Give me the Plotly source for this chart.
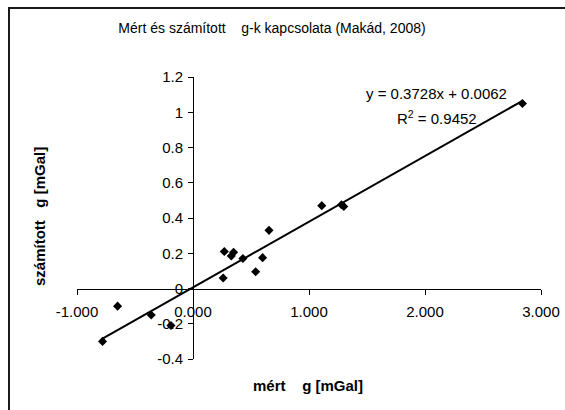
import plotly.graph_objects as go

# --- data ---
meas_g = [-0.78, -0.65, -0.36, -0.19, 0.26, 0.27, 0.33, 0.35, 0.43, 0.54, 0.60, 0.655, 1.11, 1.28, 1.30, 2.84]
calc_g = [-0.30, -0.10, -0.15, -0.21, 0.06, 0.21, 0.185, 0.205, 0.17, 0.095, 0.175, 0.33, 0.47, 0.475, 0.465, 1.05]
slope = 0.3728
intercept = 0.0062
r2 = 0.9452

x_tickvals = [-1, 0, 1, 2, 3]
x_ticktext = ["-1.000", "0.000", "1.000", "2.000", "3.000"]
y_tickvals = [-0.4, -0.2, 0, 0.2, 0.4, 0.6, 0.8, 1.0, 1.2]
y_ticktext = ["-0.4", "-0.2", "0", "0.2", "0.4", "0.6", "0.8", "1", "1.2"]

x_range = [-1, 3]
y_range = [-0.4, 1.2]

FONT = "Liberation Sans, Arial, sans-serif"

fit_x = [min(meas_g), max(meas_g)]
fit_y = [slope * v + intercept for v in fit_x]

fig = go.Figure()
fig.add_trace(go.Scatter(x=fit_x, y=fit_y, mode="lines",
                         line=dict(color="black", width=2), showlegend=False, hoverinfo="skip"))
fig.add_trace(go.Scatter(x=meas_g, y=calc_g, mode="markers",
                         marker=dict(symbol="diamond", size=7, color="black"), showlegend=False))

x_pos = (0 - y_range[0]) / (y_range[1] - y_range[0])
y_pos = (0 - x_range[0]) / (x_range[1] - x_range[0])

W, H = 565, 410
ml, mr, mt, mb = 77, 24, 77, 51
pw, ph = W - ml - mr, H - mt - mb

def px2paper_x(px):
    return (px - ml) / pw

def px2paper_y(py):
    return (H - mb - py) / ph

fig.update_layout(
    width=W, height=H,
    margin=dict(l=ml, r=mr, t=mt, b=mb),
    paper_bgcolor="white", plot_bgcolor="white",
    font=dict(family=FONT, size=15, color="black"),
    title=dict(text="Mért és számított\u00a0\u00a0\u00a0\u00a0g-k kapcsolata (Makád, 2008)",
               x=272 / W, y=1 - 28 / H, xanchor="center", yanchor="middle",
               font=dict(family=FONT, size=14, color="black")),
    xaxis=dict(range=x_range, tickvals=x_tickvals, ticktext=x_ticktext,
               showgrid=False, zeroline=False, showline=True, linecolor="black", linewidth=1,
               ticks="outside", ticklen=5, tickcolor="black", tickwidth=1,
               anchor="free", position=x_pos, automargin=False, ticklabelstandoff=4,
               tickfont=dict(family=FONT, size=15)),
    yaxis=dict(range=y_range, tickvals=y_tickvals, ticktext=y_ticktext,
               showgrid=False, zeroline=False, showline=True, linecolor="black", linewidth=1,
               ticks="outside", ticklen=5, tickcolor="black", tickwidth=1,
               anchor="free", position=y_pos, automargin=False, ticklabelstandoff=2,
               tickfont=dict(family=FONT, size=15)),
    shapes=[dict(type="rect", xref="paper", yref="paper",
                 x0=px2paper_x(9), x1=px2paper_x(590), y0=px2paper_y(430), y1=px2paper_y(8),
                 line=dict(color="#1a1a1a", width=2), fillcolor="rgba(0,0,0,0)", layer="below")],
    annotations=[
        dict(text="<b>mért\u00a0\u00a0\u00a0\u00a0g [mGal]</b>", xref="paper", yref="paper",
             x=px2paper_x(308), y=px2paper_y(385), xanchor="center", yanchor="middle",
             showarrow=False, font=dict(family=FONT, size=15)),
        dict(text="<b>számított\u00a0\u00a0\u00a0g [mGal]</b>", xref="paper", yref="paper",
             x=px2paper_x(39), y=px2paper_y(217), xanchor="center", yanchor="middle",
             textangle=-90, showarrow=False, font=dict(family=FONT, size=15)),
        dict(text=f"y = {slope}x + {intercept}", xref="x", yref="y",
             x=2.10, y=1.107, xanchor="center", yanchor="middle", showarrow=False,
             font=dict(family=FONT, size=15)),
        dict(text=f"R<sup>2</sup> = {r2}", xref="x", yref="y",
             x=2.10, y=0.968, xanchor="center", yanchor="middle", showarrow=False,
             font=dict(family=FONT, size=15)),
    ],
)

fig.write_html("out.html", config={"displayModeBar": False},
               post_script="document.body.style.margin='0';document.body.style.overflow='hidden';")
